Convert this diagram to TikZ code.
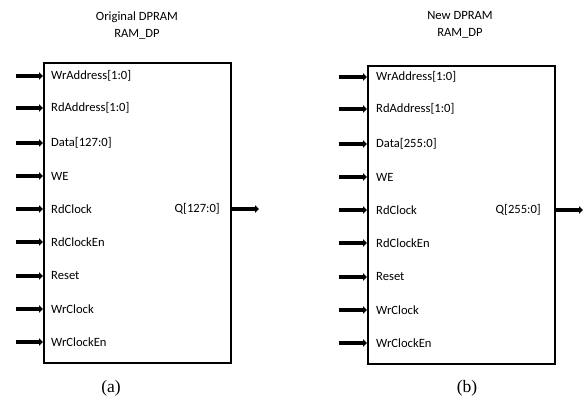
\documentclass[tikz,border=0pt]{standalone}
\usepackage{fontspec}
\setmainfont{Carlito}
\newfontfamily\capfont{Liberation Serif}
\usetikzlibrary{arrows.meta}
\tikzset{
  portlbl/.style={anchor=west, inner sep=0pt, font=\fontsize{12.6}{14}\selectfont},
  outlbl/.style={anchor=east, inner sep=0pt, font=\fontsize{12.6}{14}\selectfont},
  titlelbl/.style={align=center, inner sep=0pt, font=\fontsize{12.6}{17}\selectfont},
  caplbl/.style={inner sep=0pt, font=\capfont\fontsize{17.5}{20}\selectfont},
  portarrow/.style={line width=3.5pt, -{Triangle[length=4pt,width=7.5pt]}}
}
\begin{document}
\begin{tikzpicture}[x=1pt,y=-1pt]
\useasboundingbox (0,0) rectangle (584,401);
% ---- (a) ----
\node[draw, line width=2pt, minimum width=187pt, minimum height=300pt, inner sep=0pt, anchor=north west] (A) at (43,62) {};
\node[titlelbl] (At) at (137,25) {Original DPRAM\\RAM\_DP};
\foreach \lab/\yy/\nm in {WrAddress[1:0]/76/a1,RdAddress[1:0]/108/a2,Data[127:0]/143/a3,WE/176/a4,RdClock/209/a5,RdClockEn/242/a6,Reset/276/a7,WrClock/309/a8,WrClockEn/342/a9}{
  \node[portlbl] (\nm l) at (51,\yy) {\lab};
  \coordinate (\nm s) at (16,\yy);
  \draw[portarrow] (\nm s) -- (\nm s -| A.west);
}
\node[outlbl] (AQ) at (220,209) {Q[127:0]};
\coordinate (AQe) at (259,209);
\draw[portarrow] (AQ -| A.east) -- (AQe);
\node[caplbl] (Ac) at (111,388) {(a)};
% ---- (b) ----
\node[draw, line width=2pt, minimum width=187pt, minimum height=298pt, inner sep=0pt, anchor=north west] (B) at (367,65) {};
\node[titlelbl] (Bt) at (460,25) {New DPRAM\\RAM\_DP};
\foreach \lab/\yy/\nm in {WrAddress[1:0]/77/b1,RdAddress[1:0]/109/b2,Data[255:0]/144/b3,WE/177/b4,RdClock/210/b5,RdClockEn/243/b6,Reset/277/b7,WrClock/310/b8,WrClockEn/343/b9}{
  \node[portlbl] (\nm l) at (376,\yy) {\lab};
  \coordinate (\nm s) at (339,\yy);
  \draw[portarrow] (\nm s) -- (\nm s -| B.west);
}
\node[outlbl] (BQ) at (541,210) {Q[255:0]};
\coordinate (BQe) at (583,210);
\draw[portarrow] (BQ -| B.east) -- (BQe);
\node[caplbl] (Bc) at (467,388) {(b)};
\end{tikzpicture}
\end{document}
